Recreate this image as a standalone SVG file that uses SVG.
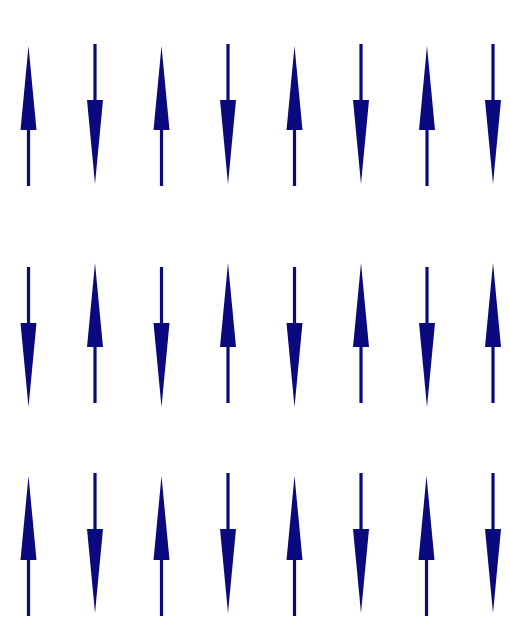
<svg xmlns="http://www.w3.org/2000/svg" xmlns:xlink="http://www.w3.org/1999/xlink" width="510" height="635" viewBox="0 0 510 635">
<defs>
<style>
.ar{fill:#0a0a7e;}
</style>
<g id="up">
<polygon class="ar" points="0,-70 8,14 -8,14"/>
<rect class="ar" x="-1.6" y="12" width="3.2" height="58"/>
</g>
<g id="down">
<polygon class="ar" points="0,70 8,-14 -8,-14"/>
<rect class="ar" x="-1.6" y="-70" width="3.2" height="58"/>
</g>
</defs>
<rect width="510" height="635" fill="#ffffff"/>
<g id="row1">
<g id="a1_1"><use href="#up" x="28.5" y="116"/></g>
<g id="a1_2"><use href="#down" x="95" y="114"/></g>
<g id="a1_3"><use href="#up" x="161.5" y="116"/></g>
<g id="a1_4"><use href="#down" x="228" y="114"/></g>
<g id="a1_5"><use href="#up" x="294.5" y="116"/></g>
<g id="a1_6"><use href="#down" x="361" y="114"/></g>
<g id="a1_7"><use href="#up" x="427" y="116"/></g>
<g id="a1_8"><use href="#down" x="493" y="114"/></g>
</g>
<g id="row2">
<g id="a2_1"><use href="#down" x="28.5" y="337"/></g>
<g id="a2_2"><use href="#up" x="95" y="333"/></g>
<g id="a2_3"><use href="#down" x="161.5" y="337"/></g>
<g id="a2_4"><use href="#up" x="228" y="333"/></g>
<g id="a2_5"><use href="#down" x="294.5" y="337"/></g>
<g id="a2_6"><use href="#up" x="361" y="333"/></g>
<g id="a2_7"><use href="#down" x="427" y="337"/></g>
<g id="a2_8"><use href="#up" x="493" y="333"/></g>
</g>
<g id="row3">
<g id="a3_1"><use href="#up" x="28.5" y="546"/></g>
<g id="a3_2"><use href="#down" x="95" y="543"/></g>
<g id="a3_3"><use href="#up" x="161.5" y="546"/></g>
<g id="a3_4"><use href="#down" x="228" y="543"/></g>
<g id="a3_5"><use href="#up" x="294.5" y="546"/></g>
<g id="a3_6"><use href="#down" x="361" y="543"/></g>
<g id="a3_7"><use href="#up" x="426.5" y="546"/></g>
<g id="a3_8"><use href="#down" x="493" y="543"/></g>
</g>
<g id="connectors"/>
</svg>
